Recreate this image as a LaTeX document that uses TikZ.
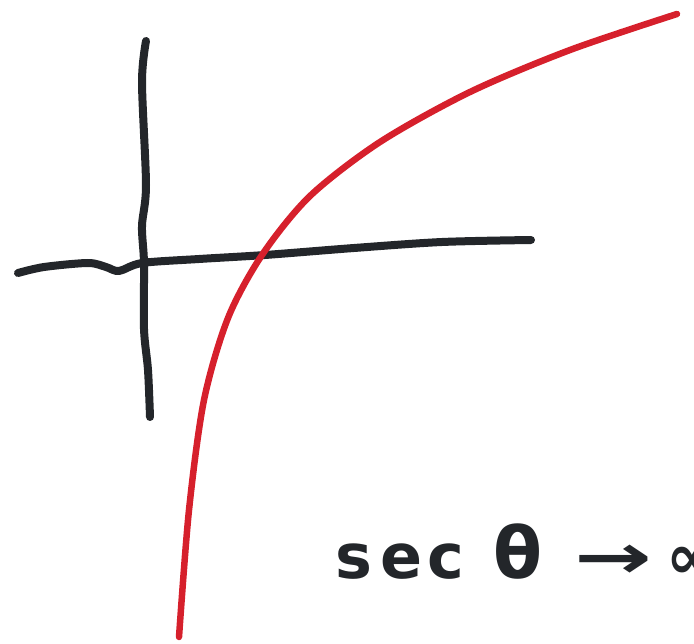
\documentclass[tikz,border=0pt]{standalone}
\usepackage{fontspec}
\setsansfont{DejaVu Sans}
\usetikzlibrary{calc}
\definecolor{inkblack}{RGB}{35,38,42}
\definecolor{inkred}{RGB}{214,32,44}

\begin{document}
\begin{tikzpicture}[x=1pt, y=-1pt,
  axisline/.style={draw=inkblack, line width=8pt, line cap=round, line join=round},
  curveline/.style={draw=inkred, line width=6.5pt, line cap=round, line join=round},
  lbl/.style={text=inkblack, font=\sffamily\bfseries\fontsize{62}{62}\selectfont, inner sep=0pt, anchor=base west}]
  \useasboundingbox (0,0) rectangle (694,644);
  \clip (0,0) rectangle (694,644);
  % axes
  \draw[axisline] plot[smooth] coordinates {(146,41) (142,82) (146,185) (142,226) (144,263) (144,329) (148,370) (150,417)};
  \draw[axisline] plot[smooth] coordinates {(18,273) (44,267) (88,263) (106,267) (119,271) (142,263) (199,259) (265,255) (354,248) (442,242) (531,240)};
  % curve
  \draw[curveline] plot[smooth] coordinates {(179,637) (189,510) (204,400) (228,318) (262,255) (310,196) (380,142) (470,92) (570,50) (677,14)};
  % label
  \node[lbl] (sec) at (335,578) {s\kern8pt e\kern5pt c\hspace{30pt}\scalebox{1.15}{θ}\hspace{32pt}\scalebox{1.5}[1]{→}\kern14pt ∞};
\end{tikzpicture}
\end{document}
